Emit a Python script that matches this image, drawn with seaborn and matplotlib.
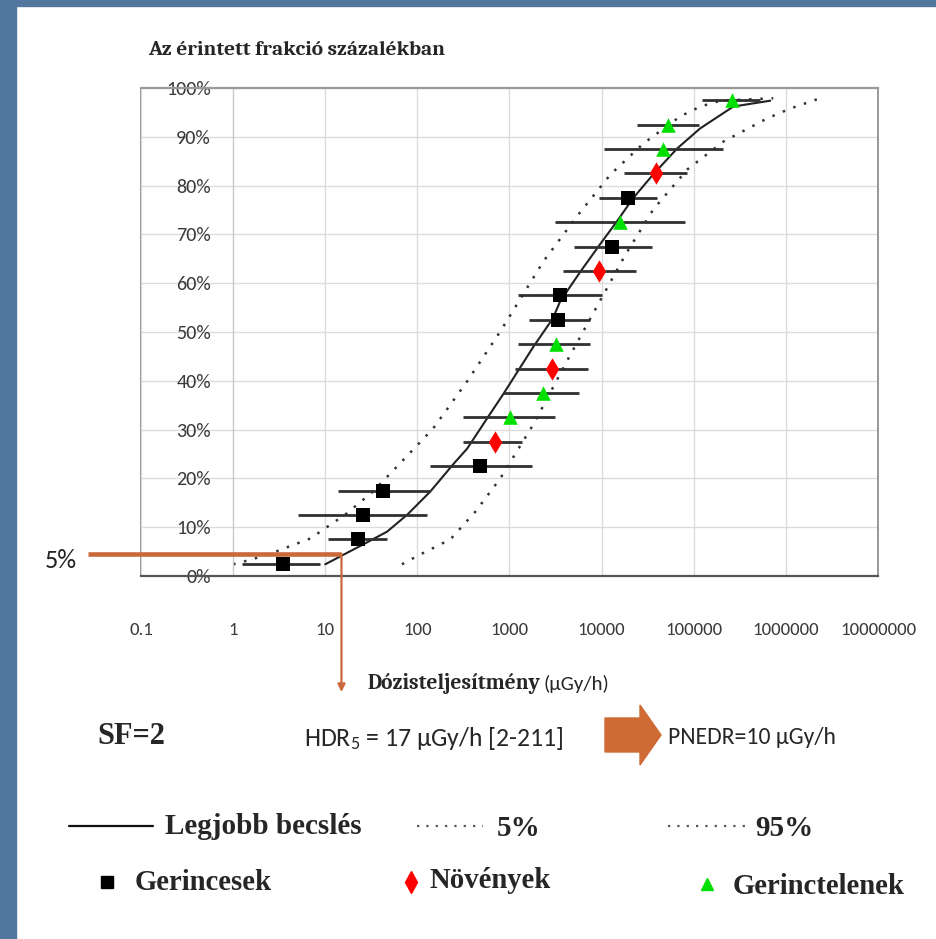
import numpy as np
import pandas as pd
import matplotlib
matplotlib.use("Agg")
import matplotlib.pyplot as plt
from matplotlib import font_manager
from matplotlib.lines import Line2D
from matplotlib.patches import Rectangle, Polygon
import seaborn as sns

# ---- curves: dose rate (µGy/h) vs affected fraction (%) ----
best_x = [10, 14.5, 26, 47, 78, 138, 245, 347, 590, 851, 1820, 2960, 3550, 5900, 9550,
          14700, 21900, 36300, 66000, 117000, 269000, 676000]
best_y = [2.4, 4.0, 6.5, 9.1, 12.6, 17.3, 22.9, 26.1, 32.7, 37.2, 47.0, 52.8, 56.3, 62.4, 67.9,
          72.7, 77.4, 82.3, 87.6, 91.7, 96.2, 97.4]

low_x = [1.0, 1.6, 2.9, 6.9, 16.5, 33, 68, 148, 347, 794, 2340, 5600, 12500, 28300, 71500, 118000, 195000, 730000]
low_y = [2.4, 3.4, 5.0, 7.7, 12.6, 17.3, 23.5, 30.2, 39.9, 50.1, 64.5, 74.1, 82.3, 88.6, 94.2, 96.2, 97.4, 97.9]

high_x = [68, 107, 228, 427, 794, 1820, 4360, 9550, 18200, 36300, 85000, 209000, 630000, 1120000, 2190000]
high_y = [2.4, 4.4, 7.5, 13.2, 20.0, 31.1, 44.6, 56.3, 65.9, 75.1, 83.3, 89.0, 93.8, 95.8, 97.7]

# ---- species points with horizontal ranges ----
gerinc_x = [3.5, 22.8, 25.9, 42.5, 480, 3390, 3550, 13000, 19400]
gerinc_y = [2.5, 7.5, 12.5, 17.5, 22.5, 52.5, 57.5, 67.5, 77.5]
gerinc_lo = [1.25, 10.8, 5.1, 13.8, 138, 1630, 1240, 5000, 9400]
gerinc_hi = [8.8, 47, 128, 138, 1770, 7500, 10000, 35500, 40000]

noveny_x = [700, 2900, 9400, 39000]
noveny_y = [27.5, 42.5, 62.5, 82.5]
noveny_lo = [315, 1150, 3820, 17600]
noveny_hi = [1370, 7200, 23700, 85000]

telen_x = [1020, 2330, 3210, 15900, 46700, 52700, 263000]
telen_y = [32.5, 37.5, 47.5, 72.5, 87.5, 92.5, 97.5]
telen_lo = [315, 850, 1240, 3140, 10700, 24400, 124000]
telen_hi = [3140, 5700, 7500, 81000, 209000, 115000, 527000]

hdr5_x = 15      # where the 5% line meets the best estimate
hdr5_y = 4.5

x_ticks = [0.1, 1, 10, 100, 1000, 10000, 100000, 1000000, 10000000]
x_labels = ["0.1", "1", "10", "100", "1000", "10000", "100000", "1000000", "10000000"]
y_ticks = list(range(0, 101, 10))
y_labels = [f"{v}%" for v in y_ticks]

sns.set_style("white")
names = {f.name for f in font_manager.fontManager.ttflist}


def pick(*cands):
    for c in cands:
        if c in names:
            return c
    return "DejaVu Sans"


sans = pick("Carlito", "Liberation Sans")
cambria = pick("Caladea", "Liberation Serif")
times = pick("Liberation Serif", "DejaVu Serif")
plt.rcParams["font.family"] = [sans, "DejaVu Sans"]
plt.rcParams["mathtext.fontset"] = "custom"
plt.rcParams["mathtext.rm"] = sans
plt.rcParams["mathtext.it"] = sans
plt.rcParams["mathtext.bf"] = sans

W, H = 937, 939
fig = plt.figure(figsize=(W / 100, H / 100), dpi=100)
fig.patch.set_facecolor("white")


def fx(px):
    return px / W


def fy(py):
    return 1 - py / H


# blue slide border
blue = "#52779f"
fig.patches.append(Rectangle((0, 0), fx(16), 1, transform=fig.transFigure, color=blue, zorder=0))
fig.patches.append(Rectangle((0, fy(6)), 1, 1 - fy(6), transform=fig.transFigure, color=blue, zorder=0))

ax = fig.add_axes([fx(141), fy(576), fx(878) - fx(141), fy(88) - fy(576)])
ax.set_xscale("log")
ax.set_xlim(0.1, 1e7)
ax.set_ylim(0, 100)

ax.grid(True, color="#dcdcdc", lw=1)
ax.set_axisbelow(True)

ax.spines["left"].set_position(("data", 1))
ax.spines["left"].set_color("#c8c8c8")
ax.spines["top"].set_color("#9a9a9a")
ax.spines["top"].set_linewidth(1.6)
ax.spines["right"].set_color("#9a9a9a")
ax.spines["right"].set_linewidth(1.4)
ax.spines["bottom"].set_color("#555555")
ax.spines["bottom"].set_linewidth(1.6)
ax.add_patch(Rectangle((0, 0), 1, 1, transform=ax.transAxes, fill=False,
                       edgecolor="#9a9a9a", lw=1.4, clip_on=False, zorder=0))

ax.set_xticks(x_ticks)
ax.set_xticklabels(x_labels)
ax.minorticks_off()
ax.set_yticks(y_ticks)
ax.set_yticklabels(y_labels)
ax.tick_params(axis="x", length=6, color="#bbbbbb", pad=27, labelsize=13.5, labelcolor="#3a3a3a")
ax.tick_params(axis="y", length=4, color="#999999", pad=12, labelsize=14.5, labelcolor="#3a3a3a")
ax.set_xlabel("")
ax.set_ylabel("")

# curves
sns.lineplot(x=best_x, y=best_y, ax=ax, color="#222222", lw=1.5, sort=False, estimator=None)
sns.lineplot(x=low_x, y=low_y, ax=ax, color="#333333", lw=1.8, sort=False, estimator=None,
             linestyle=(0, (1, 3.5)))
sns.lineplot(x=high_x, y=high_y, ax=ax, color="#333333", lw=1.8, sort=False, estimator=None,
             linestyle=(0, (1, 3.5)))

# ranges
for xs, ys, lo, hi in [(gerinc_x, gerinc_y, gerinc_lo, gerinc_hi),
                       (noveny_x, noveny_y, noveny_lo, noveny_hi),
                       (telen_x, telen_y, telen_lo, telen_hi)]:
    xs = np.array(xs)
    ax.errorbar(xs, ys, xerr=[xs - np.array(lo), np.array(hi) - xs], fmt="none",
                ecolor="#303030", elinewidth=2, capsize=0, zorder=3)

sns.scatterplot(x=gerinc_x, y=gerinc_y, ax=ax, marker="s", color="black", s=90,
                edgecolor="black", linewidth=0, zorder=4)
sns.scatterplot(x=noveny_x, y=noveny_y, ax=ax, marker="d", color="#ff0000", s=130,
                edgecolor="#ff0000", linewidth=0, zorder=4)
sns.scatterplot(x=telen_x, y=telen_y, ax=ax, marker="^", color="#00e000", s=110,
                edgecolor="#00e000", linewidth=0, zorder=4)

# orange 5% guide
orange = "#c9683a"
ax.plot([0.0267, hdr5_x], [hdr5_y, hdr5_y], color=orange, lw=3.3, clip_on=False, zorder=5,
        solid_capstyle="butt")
ax.annotate("", xy=(hdr5_x, fy(692)), xycoords=("data", "figure fraction"),
            xytext=(hdr5_x, hdr5_y), textcoords="data", annotation_clip=False,
            arrowprops=dict(arrowstyle="-|>", color=orange, lw=1.6, mutation_scale=11,
                            shrinkA=0, shrinkB=0))

# texts
fig.text(fx(148), fy(50), "Az érintett frakció százalékban", family=cambria, weight="bold",
         fontsize=15.3, ha="left", va="center")
fig.text(fx(45), fy(561), "5%", fontsize=19, ha="left", va="center", color="#222222")
fig.text(fx(367), fy(683), "Dózisteljesítmény", family=cambria, weight="bold", fontsize=15.5,
         ha="left", va="center")
fig.text(fx(544), fy(684), "(µGy/h)", fontsize=15, ha="left", va="center")
fig.text(fx(97), fy(737), "SF=2", family=times, weight="bold", fontsize=22, ha="left", va="center")
fig.text(fx(304), fy(738), r"HDR$_{5}$ = 17 µGy/h [2-211]", fontsize=18.5, ha="left", va="center")
fig.text(fx(668), fy(737), "PNEDR=10 µGy/h", fontsize=17, ha="left", va="center")

# block arrow
arrow_pts = [(605, 718), (640, 718), (640, 705), (661, 735), (640, 765), (640, 752), (605, 752)]
fig.patches.append(Polygon([(fx(a), fy(b)) for a, b in arrow_pts], closed=True,
                           transform=fig.transFigure, color="#cf6a34", zorder=2))
fig.lines.append(Line2D([fx(640), fx(640)], [fy(718), fy(752)], transform=fig.transFigure,
                        color="#d63a2a", lw=1))

# legend rows
fig.lines.append(Line2D([fx(69), fx(153)], [fy(826), fy(826)], transform=fig.transFigure,
                        color="#111111", lw=1.6))
for a, b in [(417, 483), (668, 750)]:
    fig.lines.append(Line2D([fx(a), fx(b)], [fy(826), fy(826)], transform=fig.transFigure,
                            color="#555555", lw=1.6, linestyle=(0, (1, 3.2))))
fig.text(fx(165), fy(826), "Legjobb becslés", family=times, weight="bold", fontsize=21,
         ha="left", va="center")
fig.text(fx(497), fy(829), "5%", family=times, weight="bold", fontsize=21, ha="left", va="center")
fig.text(fx(755), fy(829), "95%", family=times, weight="bold", fontsize=21, ha="left", va="center")

fig.lines.append(Line2D([fx(107)], [fy(882)], transform=fig.transFigure, marker="s",
                        color="black", markersize=8, linestyle="none"))
fig.lines.append(Line2D([fx(411)], [fy(882)], transform=fig.transFigure, marker="d",
                        color="#ff0000", markersize=11, linestyle="none"))
fig.lines.append(Line2D([fx(707)], [fy(884)], transform=fig.transFigure, marker="^",
                        color="#00e000", markersize=9, linestyle="none"))
fig.text(fx(135), fy(883), "Gerincesek", family=times, weight="bold", fontsize=20.7,
         ha="left", va="center")
fig.text(fx(430), fy(881), "Növények", family=times, weight="bold", fontsize=20.7,
         ha="left", va="center")
fig.text(fx(733), fy(886), "Gerinctelenek", family=times, weight="bold", fontsize=20.7,
         ha="left", va="center")

fig.savefig("out.png", dpi=100)
